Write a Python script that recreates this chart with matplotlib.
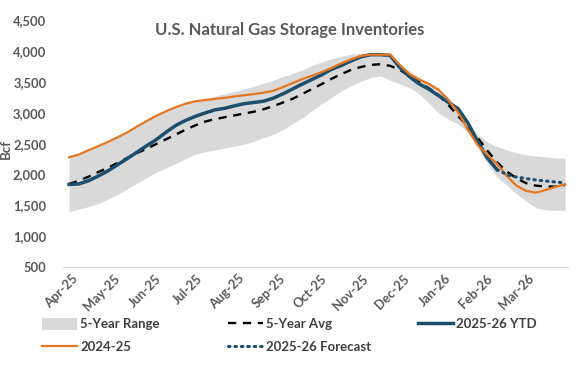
import matplotlib
matplotlib.use("Agg")
import matplotlib.pyplot as plt
from matplotlib.patches import Patch
from matplotlib.lines import Line2D
import numpy as np

# Weekly data (Bcf), week 0 = early April
weeks = list(range(52))
month_labels = ["Apr-25", "May-25", "Jun-25", "Jul-25", "Aug-25", "Sep-25",
                "Oct-25", "Nov-25", "Dec-25", "Jan-26", "Feb-26", "Mar-26"]

range_low = [1397, 1440, 1480, 1530, 1600, 1680, 1770, 1860, 1950, 2040, 2110, 2180,
             2260, 2330, 2370, 2400, 2430, 2460, 2490, 2540, 2600, 2650, 2730, 2830,
             2920, 3040, 3150, 3250, 3360, 3440, 3510, 3575, 3600, 3530, 3470, 3410,
             3310, 3160, 3000, 2900, 2820, 2690, 2450, 2180, 1960, 1830, 1690, 1570,
             1460, 1430, 1420, 1420]
range_high = [2280, 2325, 2395, 2460, 2530, 2605, 2685, 2780, 2870, 2955, 3030, 3095,
              3150, 3195, 3230, 3270, 3310, 3350, 3390, 3430, 3480, 3530, 3590, 3640,
              3700, 3770, 3830, 3880, 3920, 3955, 3970, 3970, 3965, 3950, 3800, 3680,
              3580, 3490, 3390, 3250, 3080, 2870, 2650, 2530, 2460, 2400, 2350, 2320,
              2300, 2285, 2270, 2264]
avg5 = [1847, 1900, 1965, 2040, 2110, 2190, 2270, 2350, 2420, 2500, 2575, 2650,
        2730, 2800, 2860, 2900, 2930, 2960, 2990, 3020, 3060, 3110, 3170, 3230,
        3310, 3390, 3470, 3555, 3630, 3700, 3745, 3780, 3790, 3765, 3700, 3600,
        3500, 3400, 3290, 3130, 2950, 2780, 2600, 2390, 2200, 2050, 1940, 1860,
        1820, 1805, 1805, 1830]
prior = [2280, 2325, 2395, 2460, 2530, 2605, 2685, 2780, 2870, 2955, 3030, 3095,
         3150, 3190, 3210, 3228, 3245, 3268, 3287, 3306, 3328, 3360, 3420, 3485,
         3550, 3605, 3665, 3730, 3805, 3870, 3925, 3945, 3945, 3945, 3780, 3630,
         3540, 3470, 3375, 3210, 3010, 2730, 2480, 2320, 2175, 1980, 1820, 1735,
         1706, 1750, 1800, 1842]
ytd = [1840, 1847, 1900, 1975, 2060, 2160, 2260, 2365, 2470, 2570, 2690, 2800,
       2880, 2945, 3000, 3050, 3075, 3115, 3150, 3170, 3190, 3240, 3310, 3390,
       3470, 3545, 3620, 3710, 3770, 3845, 3910, 3945, 3945, 3935, 3740, 3590,
       3470, 3385, 3280, 3170, 3070, 2840, 2540, 2270, 2080]
forecast_weeks = list(range(44, 52))
forecast = [2080, 2000, 1960, 1935, 1912, 1895, 1880, 1865]

GRAY_TXT = "#595959"
ORANGE = "#E8761E"
BLUE = "#1C4E6E"
FILL = "#D9D9D9"

plt.rcParams['font.family'] = ['Lato', 'DejaVu Sans']

fig = plt.figure(figsize=(5.76, 3.68), dpi=100)
ax = fig.add_axes([63/576, (368-267)/368, (568-63)/576, (267-20.5)/368])

ax.fill_between(weeks, range_low, range_high, color=FILL, linewidth=0, zorder=1)
ax.plot(weeks, avg5, color="black", lw=1.7, dashes=(3.5, 2.8), zorder=3)
ax.plot(weeks[:len(ytd)], ytd, color=BLUE, lw=2.5, zorder=4)
ax.plot(weeks, prior, color=ORANGE, lw=1.6, zorder=5)
ax.plot(forecast_weeks, forecast, color=BLUE, lw=2.2, linestyle=(0, (0.5, 1.6)),
        dash_capstyle='round', zorder=5)

ax.set_xlim(-0.62, 51.3)
ax.set_ylim(500, 4500)
ax.set_yticks(range(500, 4501, 500))
ax.set_yticklabels([f"{v:,}" for v in range(500, 4501, 500)])
ticks = [0.3 + k * 4.26 for k in range(12)]
ax.set_xticks(ticks)
ax.set_xticklabels(month_labels, rotation=45, ha='right', rotation_mode='anchor')

for s in ['top', 'right', 'left']:
    ax.spines[s].set_visible(False)
ax.spines['bottom'].set_color("#D9D9D9")
ax.spines['bottom'].set_linewidth(0.8)
ax.tick_params(axis='both', length=0, colors=GRAY_TXT, labelsize=9.3)
ax.tick_params(axis='y', pad=12)
ax.tick_params(axis='x', pad=4)
for lab in ax.get_xticklabels() + ax.get_yticklabels():
    lab.set_fontweight('bold')
    lab.set_color(GRAY_TXT)

ax.set_ylabel("Bcf", color=GRAY_TXT, fontsize=9.5, fontweight='bold')
ax.yaxis.set_label_coords((12 - 63) / 505, 0.48)

fig.text(290/576, 1 - 30/368, "U.S. Natural Gas Storage Inventories", ha='center', va='center',
         fontsize=12, fontweight='bold', color=GRAY_TXT)

h_range = Patch(facecolor=FILL, edgecolor='none')
h_prior = Line2D([], [], color=ORANGE, lw=1.6)
h_avg = Line2D([], [], color="black", lw=1.7, dashes=(3.5, 2.8))
h_fc = Line2D([], [], color=BLUE, lw=2.2, linestyle=(0, (0.5, 1.6)), dash_capstyle='round')
h_ytd = Line2D([], [], color=BLUE, lw=2.5)

columns = [
    (42, [h_range, h_prior], ["5-Year Range", "2024-25"]),
    (228, [h_avg, h_fc], ["5-Year Avg", "2025-26 Forecast"]),
    (418, [h_ytd], ["2025-26 YTD"]),
]
for xpx, hs, ls in columns:
    leg = fig.legend(hs, ls, ncol=1, loc='upper left', bbox_to_anchor=(xpx/576, 1 - 318/368),
                     frameon=False, handlelength=2.65, handleheight=1.0, handletextpad=0.25,
                     labelspacing=0.75, fontsize=9.5, borderaxespad=0, borderpad=0)
    for t in leg.get_texts():
        t.set_color("#404040")
        t.set_fontweight('bold')

fig.savefig("out.png", dpi=100)
